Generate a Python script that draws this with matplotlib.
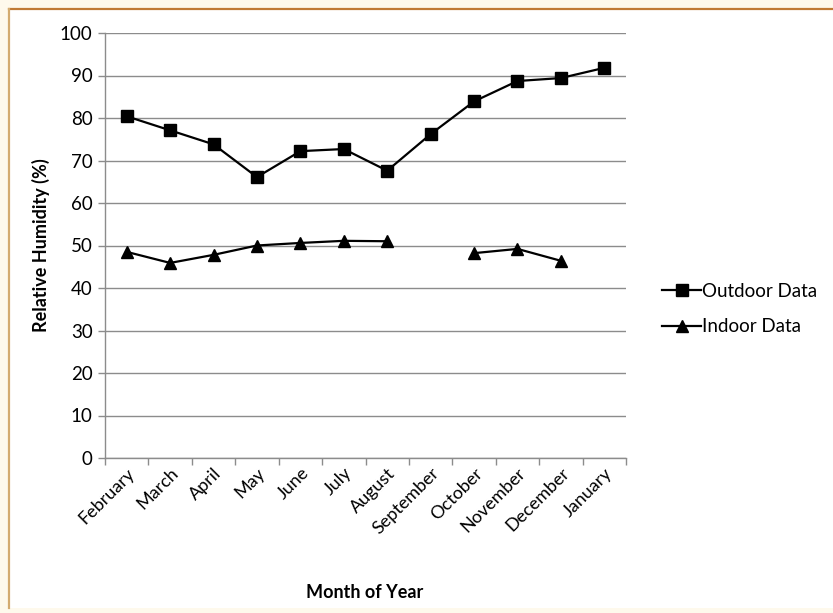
import matplotlib.pyplot as plt
from matplotlib.lines import Line2D
from matplotlib.patches import Rectangle
import numpy as np

months = ["February", "March", "April", "May", "June", "July", "August",
          "September", "October", "November", "December", "January"]
outdoor = [80.4, 77.1, 73.8, 66.1, 72.2, 72.7, 67.6, 76.2, 83.9, 88.7, 89.4, 91.8]
# September and January have no indoor reading
indoor = [48.5, 45.9, 47.8, 50.0, 50.6, 51.1, 51.0, np.nan, 48.2, 49.2, 46.4, np.nan]

plt.rcParams['font.family'] = ['Lato', 'DejaVu Sans']

W, H = 833, 613
fig = plt.figure(figsize=(W / 100, H / 100), dpi=100)
fig.patch.set_facecolor('#fef9ec')

# white panel with brown top edge and tan left edge
fig.patches.append(Rectangle((9 / W, 5 / H), 1, 1 - 14 / H, transform=fig.transFigure,
                             facecolor='white', edgecolor='none', zorder=-2))
fig.lines.append(Line2D([9 / W, 1], [1 - 9 / H, 1 - 9 / H], transform=fig.transFigure,
                        color='#c07a35', linewidth=1.6, zorder=-1))
fig.lines.append(Line2D([9 / W, 9 / W], [5 / H, 1 - 9 / H], transform=fig.transFigure,
                        color='#d3ab70', linewidth=1.6, zorder=-1))

ax = fig.add_axes([105 / W, 1 - 458 / H, 521 / W, 425 / H])
ax.set_facecolor('none')

x = np.arange(len(months))
ax.plot(x, outdoor, color='black', linewidth=1.6, marker='s', markersize=8.2,
        label='Outdoor Data', zorder=3)
ax.plot(x, indoor, color='black', linewidth=1.6, marker='^', markersize=9,
        label='Indoor Data', zorder=3)

ax.set_xlim(-0.5, len(months) - 0.5)
ax.set_ylim(0, 100)
ax.set_yticks(np.arange(0, 101, 10))
ax.yaxis.grid(True, color='#8c8c8c', linewidth=1)
ax.set_axisbelow(True)

ax.set_xticks(np.arange(-0.5, len(months), 1))
ax.set_xticklabels([])
ax.set_xticks(x, minor=True)
ax.set_xticklabels(months, minor=True, rotation=45, ha='right',
                   rotation_mode='anchor', fontsize=13)
ax.tick_params(axis='x', which='minor', length=0, pad=5)
ax.tick_params(axis='x', which='major', length=5, color='#8c8c8c', width=1)
ax.tick_params(axis='y', length=5, color='#8c8c8c', width=1, labelsize=13.5, pad=4)

for side in ['top', 'right']:
    ax.spines[side].set_visible(False)
for side in ['left', 'bottom']:
    ax.spines[side].set_color('#8c8c8c')
    ax.spines[side].set_linewidth(1)

ax.set_ylabel('Relative Humidity (%)', fontsize=13, fontweight='bold', labelpad=7)
fig.text(365 / W, 1 - 592 / H, 'Month of Year', fontsize=13, fontweight='bold',
         ha='center', va='center')

fig.legend(loc='center left', bbox_to_anchor=(645 / W, 1 - 309 / H), frameon=False,
           fontsize=13.5, handlelength=2.1, handletextpad=0.05, labelspacing=1.0)

fig.savefig('out.png', dpi=100, facecolor=fig.get_facecolor())
